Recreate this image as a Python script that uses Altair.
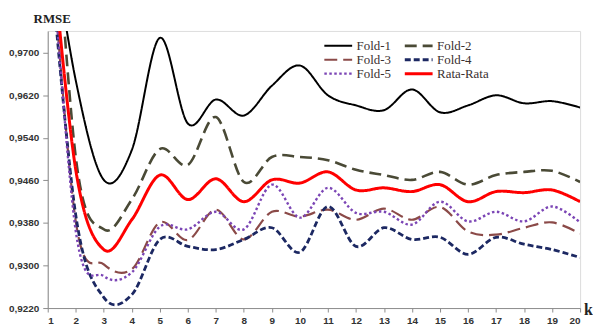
import altair as alt
import pandas as pd

k = list(range(1, 21))
series = ["Fold-1", "Fold-2", "Fold-3", "Fold-4", "Fold-5", "Rata-Rata"]
legend_order = ["Fold-1", "Fold-3", "Fold-5", "Fold-2", "Fold-4", "Rata-Rata"]

fold1 = [0.9970, 0.9648, 0.9461, 0.9517, 0.9728, 0.9567, 0.9612, 0.9582, 0.9638, 0.9676,
         0.9620, 0.9601, 0.9592, 0.9631, 0.9588, 0.9601, 0.9620, 0.9605, 0.9609, 0.9597]
fold2 = [1.0200, 0.9504, 0.9368, 0.9424, 0.9519, 0.9489, 0.9579, 0.9457, 0.9504, 0.9504,
         0.9498, 0.9480, 0.9470, 0.9461, 0.9476, 0.9452, 0.9470, 0.9476, 0.9478, 0.9457]
fold3 = [0.9990, 0.9383, 0.9302, 0.9293, 0.9381, 0.9348, 0.9405, 0.9349, 0.9401, 0.9392,
         0.9405, 0.9386, 0.9407, 0.9386, 0.9410, 0.9364, 0.9358, 0.9371, 0.9381, 0.9360]
fold4 = [0.9935, 0.9395, 0.9240, 0.9245, 0.9349, 0.9336, 0.9330, 0.9349, 0.9371, 0.9325,
         0.9411, 0.9336, 0.9371, 0.9349, 0.9353, 0.9321, 0.9353, 0.9340, 0.9330, 0.9315]
fold5 = [1.0000, 0.9365, 0.9280, 0.9287, 0.9373, 0.9368, 0.9401, 0.9368, 0.9452, 0.9390,
         0.9446, 0.9399, 0.9401, 0.9377, 0.9420, 0.9383, 0.9401, 0.9383, 0.9411, 0.9381]
rata = [0.9982, 0.9480, 0.9330, 0.9386, 0.9470, 0.9424, 0.9463, 0.9420, 0.9461, 0.9455,
        0.9476, 0.9442, 0.9446, 0.9439, 0.9452, 0.9420, 0.9439, 0.9437, 0.9442, 0.9420]

y_ticks = [0.922, 0.930, 0.938, 0.946, 0.954, 0.962, 0.970]

style = {
    "Fold-1": ("#000000", [1, 0], 2),
    "Fold-2": ("#4a4a36", [12, 6], 3),
    "Fold-3": ("#8b4a48", [13, 6], 3),
    "Fold-4": ("#1c2862", [6, 3], 3),
    "Fold-5": ("#7b45b5", [2.5, 2.5], 2.5),
    "Rata-Rata": ("#ff0000", [1, 0], 2.5),
}
colors = [style[s][0] for s in legend_order]
dashes = [style[s][1] for s in legend_order]
widths = [style[s][2] for s in legend_order]

rows = []
for name, vals in zip(series, [fold1, fold2, fold3, fold4, fold5, rata]):
    for kk, v in zip(k, vals):
        rows.append({"k": kk, "rmse": v, "series": name, "draw": series.index(name)})
df = pd.DataFrame(rows)

legend = alt.Legend(
    title=None, orient="none", legendX=274, legendY=5, columns=2,
    symbolType="stroke", symbolSize=784, clipHeight=14,
    labelFont="Liberation Serif", labelFontSize=13, labelColor="#3a3030",
    fillColor="white", padding=3, rowPadding=0, columnPadding=12, labelOffset=3,
)

chart = alt.Chart(df).mark_line(interpolate="cardinal", clip=True).encode(
    x=alt.X("k:Q", scale=alt.Scale(domain=[1, 20], nice=False, zero=False),
            axis=alt.Axis(values=k, title="k", titleX=544, titleY=1,
                          titleAlign="center", titleBaseline="middle",
                          titleFont="Liberation Serif", titleFontSize=16,
                          titleFontWeight="bold", titleColor="#222",
                          labelFont="Liberation Sans", labelFontSize=10,
                          labelFontWeight="bold", labelColor="#333",
                          tickSize=4, labelPadding=4, grid=False,
                          domainColor="#8c8c8c", tickColor="#8c8c8c")),
    y=alt.Y("rmse:Q", scale=alt.Scale(domain=[0.922, 0.9741], nice=False, zero=False),
            axis=alt.Axis(values=y_ticks, title="RMSE", titleAngle=0, titleX=4, titleY=-8,
                          titleAlign="center", titleBaseline="alphabetic",
                          titleFont="Liberation Serif", titleFontSize=13,
                          titleFontWeight="bold", titleColor="#222",
                          labelExpr="replace(format(datum.value, '.4f'), '.', ',')",
                          labelFont="Liberation Sans", labelFontSize=10,
                          labelFontWeight="bold", labelColor="#333",
                          tickSize=5, labelPadding=4, grid=False,
                          domainColor="#8c8c8c", tickColor="#8c8c8c")),
    color=alt.Color("series:N", scale=alt.Scale(domain=legend_order, range=colors), legend=legend),
    strokeDash=alt.StrokeDash("series:N", scale=alt.Scale(domain=legend_order, range=dashes), legend=legend),
    strokeWidth=alt.StrokeWidth("series:N", scale=alt.Scale(domain=legend_order, range=widths), legend=legend),
    order=alt.Order("k:Q"),
).properties(
    width=536, height=279,
    autosize=alt.AutoSizeParams(type="none"),
    padding={"left": 40, "top": 22, "right": 13, "bottom": 22},
).configure_view(strokeWidth=0).configure(background="white")

chart.save("out.html", embed_options={"renderer": "svg", "actions": False})
